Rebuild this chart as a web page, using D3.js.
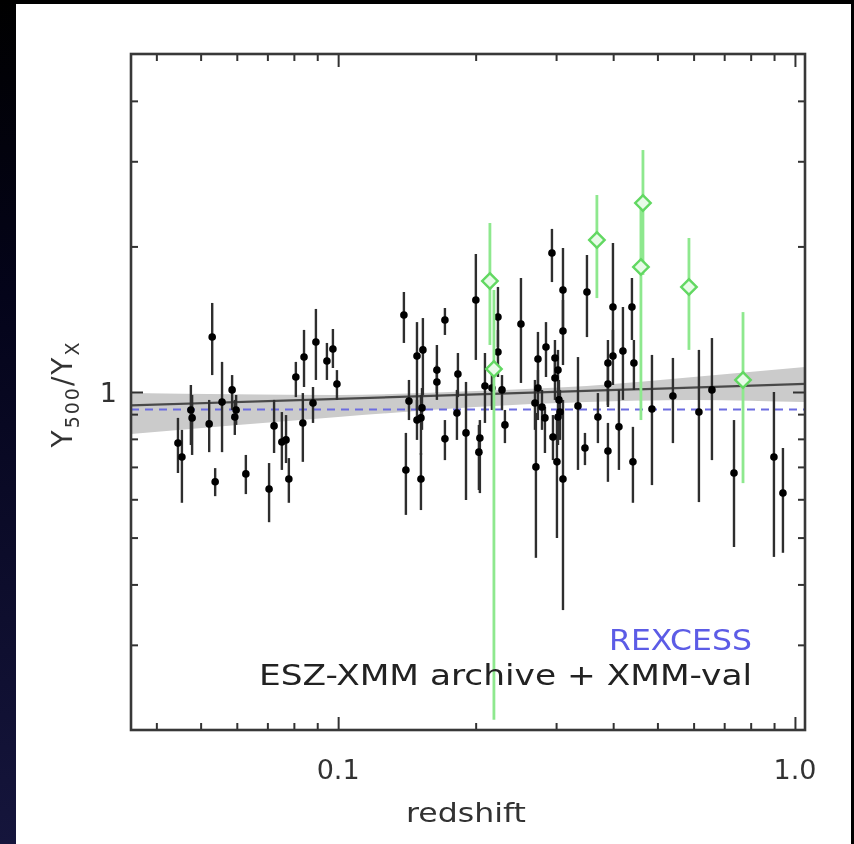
<!DOCTYPE html>
<html><head><meta charset="utf-8">
<script src="https://cdn.jsdelivr.net/npm/d3@7"></script>
<style>html,body{margin:0;padding:0;background:#000;} svg{display:block;}</style>
</head><body><svg id="c" width="854" height="844"></svg>
<script>
// ---------------- data ----------------
// ESZ-XMM archive + XMM-val clusters (black): redshift, Y500/YX, upper, lower
const blackZ  = [0.0446,0.0455,0.0476,0.0479,0.0530,0.0522,0.0538,0.0557,0.0586,0.0598,0.0594,0.0628,0.0706,0.0724,0.0753,0.0769,0.0780,0.0808,0.0842,0.0837,0.0894,0.0881,0.0945,0.0974,0.0994,
  0.1393,0.1429,0.1407,0.1488,0.1533,0.1488,0.1518,0.1518,0.1526,0.1645,0.1645,0.1713,0.1713,0.1829,0.1820,0.1905,0.2002,0.2043,0.2033,0.2096,0.2171,0.2238,0.2238,0.2284,0.2318,
  0.2513,0.2710,0.2738,0.2738,0.2697,0.2794,0.2851,0.2836,0.2953,0.2983,0.2983,0.3013,0.3029,0.3044,0.3059,0.3029,0.3106,0.3106,0.3106,0.2938,
  0.3350,0.3470,0.3505,0.3704,0.3896,0.3896,0.3896,0.3996,0.3996,0.4118,0.4202,0.4397,0.4441,0.4419,0.4864,0.5406,0.6163,0.6581,0.7355,0.8995,0.9413];
const blackY  = [0.784,0.734,0.918,0.884,1.299,0.859,0.652,0.953,1.010,0.918,0.888,0.677,0.630,0.851,0.788,0.796,0.661,1.074,1.181,0.863,1.269,0.949,1.159,1.227,1.039,
  1.443,0.958,0.690,1.187,1.222,0.875,0.884,0.661,0.927,1.110,1.049,1.409,0.800,1.089,0.905,0.823,1.550,0.803,0.751,1.029,1.019,1.429,1.210,1.010,0.855,
  1.382,0.700,1.170,1.019,0.949,0.931,1.239,0.884,0.807,1.176,1.069,0.717,1.110,0.963,0.909,0.888,1.625,1.337,0.661,1.938,
  0.936,0.766,1.610,0.888,1.148,1.039,0.755,1.499,1.187,0.847,1.216,1.499,1.148,0.717,0.922,0.981,0.909,1.010,0.680,0.734,0.618];
const blackHi = [0.884,0.835,1.034,0.986,1.528,0.963,0.696,1.154,1.084,0.986,0.963,0.741,0.713,0.963,0.909,0.896,0.730,1.154,1.344,0.995,1.485,1.024,1.263,1.350,1.110,
  1.610,1.059,0.823,1.395,1.422,0.963,0.986,0.748,1.019,1.251,1.137,1.492,0.875,1.204,1.010,1.049,1.929,0.875,0.855,1.204,1.110,1.649,1.344,1.084,0.918,
  1.721,0.905,1.331,1.110,1.059,1.010,1.395,0.931,0.896,1.281,1.193,0.875,1.222,1.059,1.010,0.986,1.985,1.550,0.963,2.174,
  1.181,0.823,1.920,0.995,1.281,1.137,0.863,2.033,1.344,1.010,1.499,1.721,1.281,0.847,1.193,1.176,1.222,1.293,0.875,1.000,0.766];
const blackLo = [0.680,0.590,0.777,0.741,1.084,0.751,0.609,0.751,0.918,0.855,0.815,0.615,0.538,0.748,0.690,0.713,0.590,0.976,1.024,0.717,1.059,0.863,1.059,1.121,0.963,
  1.263,0.875,0.557,0.918,0.986,0.796,0.741,0.570,0.835,0.995,0.963,1.312,0.723,0.976,0.796,0.598,1.165,0.618,0.627,0.863,0.918,1.239,1.074,0.918,0.784,
  1.044,0.454,1.010,0.875,0.835,0.835,1.074,0.748,0.723,1.059,0.963,0.499,0.986,0.855,0.796,0.777,1.344,1.137,0.354,1.688,
  0.690,0.706,1.299,0.784,0.931,0.940,0.652,1.165,1.034,0.690,0.963,1.281,1.010,0.590,0.642,0.784,0.592,0.723,0.478,0.456,0.465];

// XMM validation clusters (green diamonds)
const greenZ  = [0.2149,0.2193,0.3685,0.4648,0.4601,0.5861,0.7697];
const greenY  = [1.696,1.116,2.062,2.459,1.814,1.649,1.059];
const greenHi = [2.236,1.625,2.555,3.165,2.436,2.082,1.463];
const greenLo = [1.251,0.210,1.564,1.746,0.875,1.222,0.648];

// best fit and its uncertainty band
const fitLineZ = [0.0352, 1.052];
const fitLineY = [0.938, 1.039];
const bandZ  = [0.0352, 0.1, 0.2, 0.35, 0.6, 1.052];
const bandHi = [0.995, 0.986, 1.005, 1.029, 1.074, 1.126];
const bandLo = [0.819, 0.888, 0.931, 0.953, 0.963, 0.953];

// REXCESS reference level
const rexcessY = 0.92;

// axes
const xDomain = [0.0352, 1.052];
const yDomain = [0.2, 5];
const xMajorTicks = [0.1, 1.0];
const xMajorLabels = ["0.1", "1.0"];
const xMinorTicks = [0.04,0.05,0.06,0.07,0.08,0.09,0.2,0.3,0.4,0.5,0.6,0.7,0.8,0.9];
const yMajorTicks = [1];
const yMajorLabels = ["1"];
const yMinorTicks = [0.3,0.4,0.5,0.6,0.7,0.8,0.9,2,3,4];
const legendLabels = ["REXCESS", "ESZ-XMM archive + XMM-val"];

// ---------------- drawing ----------------
const svg = d3.select("#c");
const defs = svg.append("defs");
const lg = defs.append("linearGradient").attr("id","lg").attr("x1",0).attr("y1",0).attr("x2",0).attr("y2",1);
lg.append("stop").attr("offset","0%").attr("stop-color","#000");
lg.append("stop").attr("offset","35%").attr("stop-color","#04041a");
lg.append("stop").attr("offset","100%").attr("stop-color","#15153c");
defs.append("filter").attr("id","soft").attr("x","-5%").attr("y","-5%").attr("width","110%").attr("height","110%")
  .append("feGaussianBlur").attr("stdDeviation",0.45);

svg.append("rect").attr("width",854).attr("height",844).attr("fill","#000");
svg.append("rect").attr("x",0).attr("y",0).attr("width",16).attr("height",844).attr("fill","url(#lg)");
svg.append("rect").attr("x",16).attr("y",4).attr("width",835).attr("height",840).attr("fill","#fff");

const root = svg.append("g").attr("filter","url(#soft)");

const M = {l:131, t:54}, W = 674, H = 676;
const x = d3.scaleLog().domain(xDomain).range([0, W]);
const y = d3.scaleLog().domain(yDomain).range([H, 0]);

defs.append("clipPath").attr("id","plotclip").append("rect").attr("width",W).attr("height",H);
const g = root.append("g").attr("transform",`translate(${M.l},${M.t})`);
const p = g.append("g").attr("clip-path","url(#plotclip)");

// band
const band = bandZ.map((z,i)=>({z, lo:bandLo[i], hi:bandHi[i]}));
p.append("path").datum(band)
  .attr("d", d3.area().x(d=>x(d.z)).y0(d=>y(d.lo)).y1(d=>y(d.hi)).curve(d3.curveMonotoneX))
  .attr("fill","#cbcbcb");
p.append("line")
  .attr("x1",x(fitLineZ[0])).attr("y1",y(fitLineY[0]))
  .attr("x2",x(fitLineZ[1])).attr("y2",y(fitLineY[1]))
  .attr("stroke","#4a4a4a").attr("stroke-width",2.2);
p.append("line")
  .attr("x1",0).attr("x2",W).attr("y1",y(rexcessY)).attr("y2",y(rexcessY))
  .attr("stroke","#6c6ce0").attr("stroke-width",2).attr("stroke-dasharray","8,6");

// black points
const blk = blackZ.map((z,i)=>({z, v:blackY[i], hi:blackHi[i], lo:blackLo[i]}));
p.selectAll("line.be").data(blk).enter().append("line").attr("class","be")
  .attr("x1",d=>x(d.z)).attr("x2",d=>x(d.z)).attr("y1",d=>y(d.hi)).attr("y2",d=>y(d.lo))
  .attr("stroke","#2e2e2e").attr("stroke-width",2.4);
p.selectAll("circle.bp").data(blk).enter().append("circle").attr("class","bp")
  .attr("cx",d=>x(d.z)).attr("cy",d=>y(d.v)).attr("r",3.8).attr("fill","#000");

// green points
const grn = greenZ.map((z,i)=>({z, v:greenY[i], hi:greenHi[i], lo:greenLo[i]}));
p.selectAll("line.ge").data(grn).enter().append("line").attr("class","ge")
  .attr("x1",d=>x(d.z)).attr("x2",d=>x(d.z)).attr("y1",d=>y(d.hi)).attr("y2",d=>y(d.lo))
  .attr("stroke","#8ee88e").attr("stroke-width",2.8);
p.selectAll("path.gp").data(grn).enter().append("path").attr("class","gp")
  .attr("d", d3.symbol().type(d3.symbolSquare).size(120))
  .attr("transform",d=>`translate(${x(d.z)},${y(d.v)}) rotate(45)`)
  .attr("fill","#e8fbe8").attr("stroke","#62d862").attr("stroke-width",2.4);

// axes (ticks inward on all four sides)
function styleAxis(sel){
  sel.select(".domain").remove();
  sel.selectAll(".tick line").attr("stroke","#333").attr("stroke-width",2);
  sel.selectAll(".tick text").remove();
}
g.append("g").attr("transform",`translate(0,${H})`).call(d3.axisBottom(x).tickValues(xMinorTicks).tickSize(-7)).call(styleAxis);
g.append("g").attr("transform",`translate(0,${H})`).call(d3.axisBottom(x).tickValues(xMajorTicks).tickSize(-13)).call(styleAxis);
g.append("g").call(d3.axisTop(x).tickValues(xMinorTicks).tickSize(-7)).call(styleAxis);
g.append("g").call(d3.axisTop(x).tickValues(xMajorTicks).tickSize(-13)).call(styleAxis);
g.append("g").call(d3.axisLeft(y).tickValues(yMinorTicks).tickSize(-7)).call(styleAxis);
g.append("g").call(d3.axisLeft(y).tickValues(yMajorTicks).tickSize(-12)).call(styleAxis);
g.append("g").attr("transform",`translate(${W},0)`).call(d3.axisRight(y).tickValues(yMinorTicks).tickSize(-7)).call(styleAxis);
g.append("g").attr("transform",`translate(${W},0)`).call(d3.axisRight(y).tickValues(yMajorTicks).tickSize(-12)).call(styleAxis);

g.append("rect").attr("width",W).attr("height",H).attr("fill","none")
  .attr("stroke","#383838").attr("stroke-width",2.6);

const font = "'DejaVu Sans', sans-serif";
// tick labels
g.selectAll("text.xl").data(xMajorTicks).enter().append("text").attr("class","xl")
  .attr("x",d=>x(d)).attr("y",H+49).attr("text-anchor","middle")
  .attr("font-family",font).attr("font-size",27).attr("fill","#333")
  .text((d,i)=>xMajorLabels[i]);
g.selectAll("text.yl").data(yMajorTicks).enter().append("text").attr("class","yl")
  .attr("x",-14).attr("y",d=>y(d)+10).attr("text-anchor","end")
  .attr("font-family",font).attr("font-size",27).attr("fill","#333")
  .text((d,i)=>yMajorLabels[i]);

// axis titles
root.append("text").attr("x",466).attr("y",822).attr("text-anchor","middle")
  .attr("font-family",font).attr("font-size",27).attr("fill","#333")
  .attr("textLength",120).attr("lengthAdjust","spacingAndGlyphs").text("redshift");

const yt = root.append("text").attr("transform","translate(72,394) rotate(-90)")
  .attr("text-anchor","middle").attr("font-family",font).attr("font-size",28)
  .attr("fill","#333").attr("letter-spacing",2);
yt.append("tspan").text("Y");
yt.append("tspan").attr("font-size",19).attr("dy",7).text("500");
yt.append("tspan").attr("dy",-7).text("/Y");
yt.append("tspan").attr("font-size",19).attr("dy",7).text("X");

// legend text
root.append("text").attr("x",752).attr("y",650).attr("text-anchor","end")
  .attr("font-family",font).attr("font-size",29).attr("fill","#5b5be6")
  .attr("textLength",143).attr("lengthAdjust","spacingAndGlyphs").text(legendLabels[0]);
root.append("text").attr("x",752).attr("y",685).attr("text-anchor","end")
  .attr("font-family",font).attr("font-size",29).attr("fill","#222")
  .attr("textLength",493).attr("lengthAdjust","spacingAndGlyphs").text(legendLabels[1]);
</script>
</body></html>
